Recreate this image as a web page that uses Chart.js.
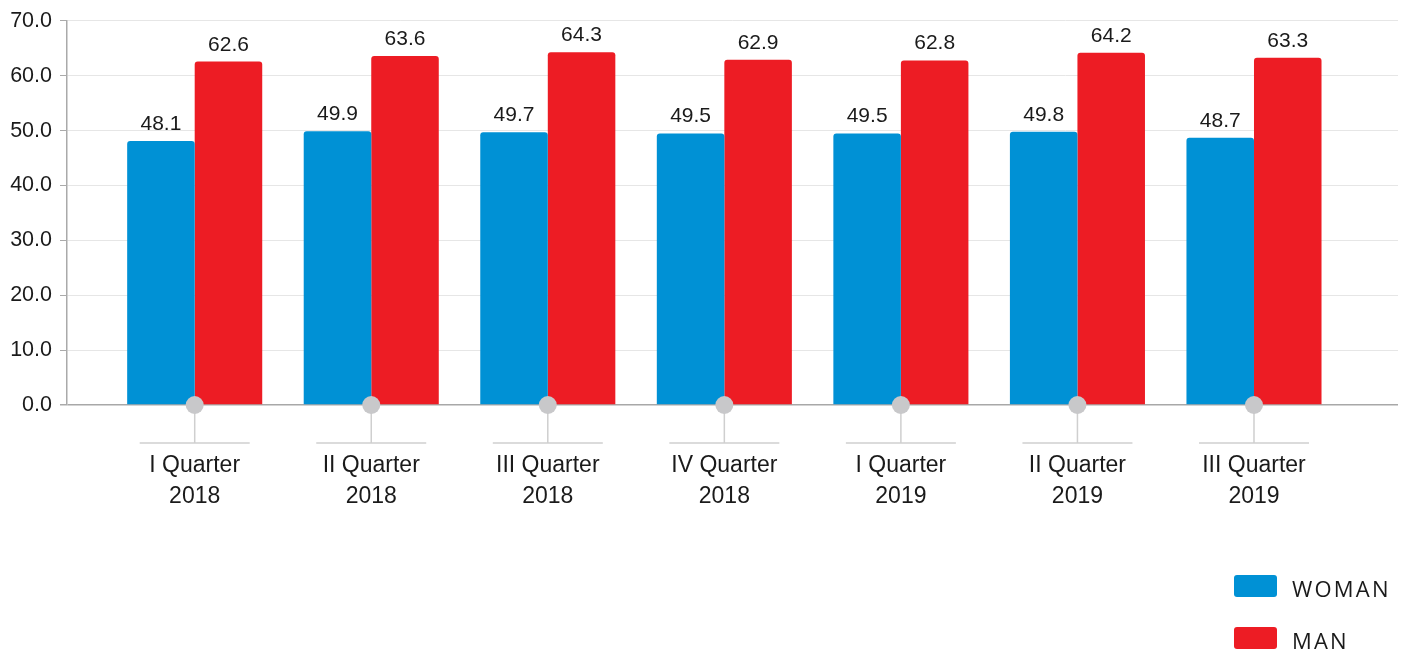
<!DOCTYPE html>
<html>
<head>
<meta charset="utf-8">
<title>Woman / Man by quarter</title>
<script src="https://cdn.jsdelivr.net/npm/chart.js@4"></script>
<style>
  html, body { margin: 0; padding: 0; background: #fff; }
  #wrap { position: relative; width: 1406px; height: 651px; }
</style>
</head>
<body>
<div id="wrap"><canvas id="chart"></canvas></div>
<script>
'use strict';

// ── Data ─────────────────────────────────────────────────────────────────────
const categories = [
  ['I Quarter', '2018'],
  ['II Quarter', '2018'],
  ['III Quarter', '2018'],
  ['IV Quarter', '2018'],
  ['I Quarter', '2019'],
  ['II Quarter', '2019'],
  ['III Quarter', '2019'],
];
const womanValues = [48.1, 49.9, 49.7, 49.5, 49.5, 49.8, 48.7];
const manValues   = [62.6, 63.6, 64.3, 62.9, 62.8, 64.2, 63.3];
const yTicks      = [0, 10, 20, 30, 40, 50, 60, 70];

// ── Style ────────────────────────────────────────────────────────────────────
const BLUE  = '#0091d5';
const RED   = '#ed1c24';
const FONT  = '"Liberation Sans", Arial, sans-serif';
const INK   = '#1a1a1a';

const toPoints = arr => arr.map((v, i) => ({ x: i, y: v }));

// value labels above bars
const valueLabels = {
  id: 'valueLabels',
  afterDatasetsDraw(chart) {
    const ctx = chart.ctx;
    ctx.save();
    ctx.font = `21px ${FONT}`;
    ctx.fillStyle = INK;
    ctx.textAlign = 'center';
    ctx.textBaseline = 'alphabetic';
    chart.data.datasets.forEach((ds, di) => {
      chart.getDatasetMeta(di).data.forEach((bar, i) => {
        ctx.fillText(ds.data[i].y.toFixed(1), bar.x, bar.y - 11);
      });
    });
    ctx.restore();
  }
};

// knobs, stems and underlines on the category axis
const axisMarks = {
  id: 'axisMarks',
  afterDatasetsDraw(chart) {
    const ctx = chart.ctx;
    const xs = chart.scales.x;
    const y0 = chart.scales.y.getPixelForValue(0);
    ctx.save();
    categories.forEach((c, i) => {
      const x = xs.getPixelForValue(i);
      ctx.strokeStyle = '#cfcfcf';
      ctx.lineWidth = 1.5;
      ctx.beginPath();
      ctx.moveTo(x, y0);
      ctx.lineTo(x, y0 + 38);
      ctx.moveTo(x - 55, y0 + 38);
      ctx.lineTo(x + 55, y0 + 38);
      ctx.stroke();
      ctx.fillStyle = '#c8c8ca';
      ctx.beginPath();
      ctx.arc(x, y0, 9, 0, Math.PI * 2);
      ctx.fill();
    });
    ctx.restore();
  }
};

// vertical legend at the bottom right
const sideLegend = {
  id: 'sideLegend',
  afterDraw(chart) {
    const ctx = chart.ctx;
    ctx.save();
    ctx.font = `22px "Open Sans", sans-serif`;
    if ('letterSpacing' in ctx) ctx.letterSpacing = '2.2px';
    ctx.textBaseline = 'alphabetic';
    chart.data.datasets.forEach((ds, i) => {
      const top = 575 + i * 52;
      ctx.fillStyle = ds.backgroundColor;
      ctx.beginPath();
      ctx.roundRect(1234, top, 43, 22, 3);
      ctx.fill();
      ctx.fillStyle = INK;
      ctx.fillText(ds.label, 1292, top + 22);
    });
    ctx.restore();
  }
};

new Chart(document.getElementById('chart'), {
  type: 'bar',
  data: {
    datasets: [
      { label: 'WOMAN', data: toPoints(womanValues), backgroundColor: BLUE,
        borderRadius: { topLeft: 3, topRight: 3 }, borderSkipped: 'bottom' },
      { label: 'MAN', data: toPoints(manValues), backgroundColor: RED,
        borderRadius: { topLeft: 3, topRight: 3 }, borderSkipped: 'bottom' },
    ],
  },
  options: {
    responsive: true,
    maintainAspectRatio: false,
    animation: false,
    categoryPercentage: 0.765,
    barPercentage: 1.0,
    layout: { padding: { top: 20, right: 8, left: 0, bottom: 0 } },
    plugins: {
      legend: { display: false },
      tooltip: { enabled: false },
    },
    scales: {
      x: {
        type: 'linear',
        offset: false,
        min: -0.7233,
        max: 6.8157,
        afterBuildTicks: axis => { axis.ticks = categories.map((c, i) => ({ value: i })); },
        afterFit: s => { s.height = 246; },
        grid: { display: false, drawTicks: false },
        border: { display: false },
        ticks: {
          autoSkip: false,
          maxRotation: 0,
          padding: 45,
          color: INK,
          font: { family: FONT, size: 23, lineHeight: 1.35 },
          callback: v => categories[v],
        },
      },
      y: {
        min: 0,
        max: 70,
        afterBuildTicks: axis => { axis.ticks = yTicks.map(v => ({ value: v })); },
        afterFit: s => { s.width = 67; },
        border: { display: true, color: '#aaaaaa', width: 1.5 },
        grid: {
          color: ctx => ctx.tick && ctx.tick.value === 0 ? '#a8a8a8' : '#e6e6e6',
          lineWidth: ctx => ctx.tick && ctx.tick.value === 0 ? 1.5 : 1,
          drawTicks: true,
          tickLength: 7,
          tickColor: '#aaaaaa',
        },
        ticks: {
          padding: 8,
          color: INK,
          font: { family: FONT, size: 21.5 },
          callback: v => v.toFixed(1),
        },
      },
    },
  },
  plugins: [valueLabels, axisMarks, sideLegend],
});
</script>
</body>
</html>
